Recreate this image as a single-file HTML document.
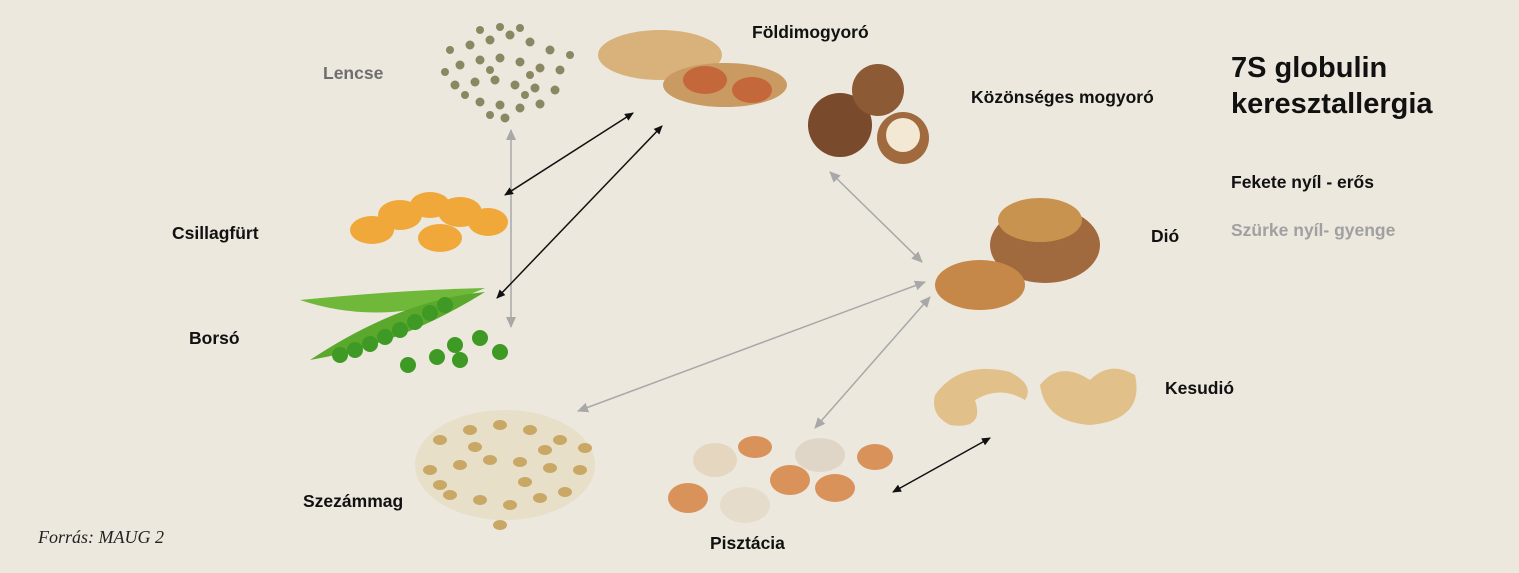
<!DOCTYPE html>
<html><head><meta charset="utf-8"><style>
html,body{margin:0;padding:0}
body{width:1519px;height:573px;background:#ece8de;position:relative;overflow:hidden;font-family:"Liberation Sans",sans-serif}
.l{position:absolute;font-weight:bold;font-size:17.5px;color:#111;white-space:nowrap}
svg{position:absolute;left:0;top:0}
</style></head><body>
<svg width="1519" height="573" viewBox="0 0 1519 573">
<defs>
<marker id="ab" markerWidth="10" markerHeight="10" refX="8" refY="5" orient="auto-start-reverse" markerUnits="userSpaceOnUse"><path d="M0,1 L9,5 L0,9 z" fill="#111"/></marker>
<marker id="ag" markerWidth="12" markerHeight="12" refX="10" refY="6" orient="auto-start-reverse" markerUnits="userSpaceOnUse"><path d="M0,1 L11,6 L0,11 z" fill="#a8a8a8"/></marker>
</defs>
<!-- lentils -->
<g fill="#8a8862">
<circle cx="470" cy="45" r="4.5"/><circle cx="490" cy="40" r="4.5"/><circle cx="510" cy="35" r="4.5"/><circle cx="530" cy="42" r="4.5"/><circle cx="550" cy="50" r="4.5"/><circle cx="480" cy="30" r="4"/><circle cx="500" cy="27" r="4"/><circle cx="520" cy="28" r="4"/>
<circle cx="460" cy="65" r="4.5"/><circle cx="480" cy="60" r="4.5"/><circle cx="500" cy="58" r="4.5"/><circle cx="520" cy="62" r="4.5"/><circle cx="540" cy="68" r="4.5"/><circle cx="560" cy="70" r="4.5"/><circle cx="450" cy="50" r="4"/><circle cx="570" cy="55" r="4"/>
<circle cx="455" cy="85" r="4.5"/><circle cx="475" cy="82" r="4.5"/><circle cx="495" cy="80" r="4.5"/><circle cx="515" cy="85" r="4.5"/><circle cx="535" cy="88" r="4.5"/><circle cx="555" cy="90" r="4.5"/><circle cx="445" cy="72" r="4"/><circle cx="490" cy="70" r="4"/><circle cx="530" cy="75" r="4"/>
<circle cx="480" cy="102" r="4.5"/><circle cx="500" cy="105" r="4.5"/><circle cx="520" cy="108" r="4.5"/><circle cx="540" cy="104" r="4.5"/><circle cx="505" cy="118" r="4.5"/><circle cx="465" cy="95" r="4"/><circle cx="490" cy="115" r="4"/><circle cx="525" cy="95" r="4"/>
</g>
<!-- peanut -->
<ellipse cx="660" cy="55" rx="62" ry="25" fill="#d8b27a"/>
<ellipse cx="725" cy="85" rx="62" ry="22" fill="#c99a62"/>
<ellipse cx="705" cy="80" rx="22" ry="14" fill="#c4673a"/><ellipse cx="752" cy="90" rx="20" ry="13" fill="#c4673a"/>
<!-- hazelnuts -->
<circle cx="840" cy="125" r="32" fill="#7a4a2c"/><circle cx="878" cy="90" r="26" fill="#8c5a34"/>
<circle cx="903" cy="138" r="26" fill="#a06a3e"/><circle cx="903" cy="135" r="17" fill="#f3e8d4"/>
<!-- lupin -->
<g fill="#f0a83a">
<ellipse cx="372" cy="230" rx="22" ry="14"/><ellipse cx="400" cy="215" rx="22" ry="15"/><ellipse cx="430" cy="205" rx="20" ry="13"/><ellipse cx="460" cy="212" rx="22" ry="15"/><ellipse cx="488" cy="222" rx="20" ry="14"/><ellipse cx="440" cy="238" rx="22" ry="14"/>
</g>
<!-- peas -->
<path d="M300,300 Q390,330 485,288 Q400,290 300,300z" fill="#6fb83a"/>
<path d="M310,360 Q400,345 485,292 Q400,300 310,360z" fill="#5aa82c"/>
<g fill="#3e9a24"><circle cx="340" cy="355" r="8"/><circle cx="355" cy="350" r="8"/><circle cx="370" cy="344" r="8"/><circle cx="385" cy="337" r="8"/><circle cx="400" cy="330" r="8"/><circle cx="415" cy="322" r="8"/><circle cx="430" cy="313" r="8"/><circle cx="445" cy="305" r="8"/>
<circle cx="408" cy="365" r="8"/><circle cx="437" cy="357" r="8"/><circle cx="455" cy="345" r="8"/><circle cx="480" cy="338" r="8"/><circle cx="500" cy="352" r="8"/><circle cx="460" cy="360" r="8"/></g>
<!-- walnut -->
<ellipse cx="1045" cy="245" rx="55" ry="38" fill="#a06a3e"/>
<ellipse cx="1040" cy="220" rx="42" ry="22" fill="#c8934e"/>
<ellipse cx="980" cy="285" rx="45" ry="25" fill="#c58848"/>
<!-- cashew -->
<path d="M935,395 Q960,360 1010,372 Q1035,385 1025,400 Q1000,385 975,400 Q985,430 950,425 Q930,415 935,395z" fill="#e2c08a"/>
<path d="M1040,385 Q1060,360 1090,380 Q1110,360 1135,375 Q1145,420 1090,425 Q1045,422 1040,385z" fill="#e2c08a"/>
<!-- sesame -->
<ellipse cx="505" cy="465" rx="90" ry="55" fill="#e3d6b4" opacity="0.5"/>
<g fill="#c9a866">
<ellipse cx="440" cy="440" rx="7" ry="5"/><ellipse cx="470" cy="430" rx="7" ry="5"/><ellipse cx="500" cy="425" rx="7" ry="5"/><ellipse cx="530" cy="430" rx="7" ry="5"/><ellipse cx="560" cy="440" rx="7" ry="5"/>
<ellipse cx="430" cy="470" rx="7" ry="5"/><ellipse cx="460" cy="465" rx="7" ry="5"/><ellipse cx="490" cy="460" rx="7" ry="5"/><ellipse cx="520" cy="462" rx="7" ry="5"/><ellipse cx="550" cy="468" rx="7" ry="5"/><ellipse cx="580" cy="470" rx="7" ry="5"/>
<ellipse cx="450" cy="495" rx="7" ry="5"/><ellipse cx="480" cy="500" rx="7" ry="5"/><ellipse cx="510" cy="505" rx="7" ry="5"/><ellipse cx="540" cy="498" rx="7" ry="5"/><ellipse cx="565" cy="492" rx="7" ry="5"/><ellipse cx="500" cy="525" rx="7" ry="5"/>
<ellipse cx="475" cy="447" rx="7" ry="5"/><ellipse cx="545" cy="450" rx="7" ry="5"/><ellipse cx="440" cy="485" rx="7" ry="5"/><ellipse cx="525" cy="482" rx="7" ry="5"/><ellipse cx="585" cy="448" rx="7" ry="5"/>
</g>
<!-- pistachio -->
<g fill="#d9935a"><ellipse cx="715" cy="460" rx="22" ry="17" fill="#e5d6c0"/><ellipse cx="755" cy="447" rx="17" ry="11"/><ellipse cx="820" cy="455" rx="25" ry="17" fill="#e0d6c8"/><ellipse cx="875" cy="457" rx="18" ry="13"/>
<ellipse cx="688" cy="498" rx="20" ry="15"/><ellipse cx="745" cy="505" rx="25" ry="18" fill="#e5dccc"/><ellipse cx="790" cy="480" rx="20" ry="15"/><ellipse cx="835" cy="488" rx="20" ry="14"/></g>
<!-- arrows -->
<g stroke-width="1.5" fill="none">
<line x1="511" y1="130" x2="511" y2="327" stroke="#a8a8a8" marker-start="url(#ag)" marker-end="url(#ag)"/>
<line x1="505" y1="195" x2="633" y2="113" stroke="#111" marker-start="url(#ab)" marker-end="url(#ab)"/>
<line x1="497" y1="298" x2="662" y2="126" stroke="#111" marker-start="url(#ab)" marker-end="url(#ab)"/>
<line x1="830" y1="172" x2="922" y2="262" stroke="#a8a8a8" marker-start="url(#ag)" marker-end="url(#ag)"/>
<line x1="578" y1="411" x2="925" y2="282" stroke="#a8a8a8" marker-start="url(#ag)" marker-end="url(#ag)"/>
<line x1="815" y1="428" x2="930" y2="297" stroke="#a8a8a8" marker-start="url(#ag)" marker-end="url(#ag)"/>
<line x1="893" y1="492" x2="990" y2="438" stroke="#111" marker-start="url(#ab)" marker-end="url(#ab)"/>
</g>
</svg>
<div class="l" style="left:323px;top:63px;color:#6e6e6e">Lencse</div>
<div class="l" style="left:752px;top:22px">Földimogyoró</div>
<div class="l" style="left:971px;top:87px">Közönséges mogyoró</div>
<div class="l" style="left:172px;top:223px">Csillagfürt</div>
<div class="l" style="left:189px;top:328px">Borsó</div>
<div class="l" style="left:1151px;top:226px">Dió</div>
<div class="l" style="left:1165px;top:378px">Kesudió</div>
<div class="l" style="left:303px;top:491px">Szezámmag</div>
<div class="l" style="left:710px;top:533px">Pisztácia</div>
<div class="l" style="left:1231px;top:50px;font-size:29px;line-height:36px">7S globulin<br>keresztallergia</div>
<div class="l" style="left:1231px;top:172px">Fekete nyíl - erős</div>
<div class="l" style="left:1231px;top:220px;color:#a0a0a0">Szürke nyíl- gyenge</div>
<div style="position:absolute;left:38px;top:527px;font-family:'Liberation Serif',serif;font-style:italic;font-size:18px;color:#222">Forrás: MAUG 2</div>
</body></html>
